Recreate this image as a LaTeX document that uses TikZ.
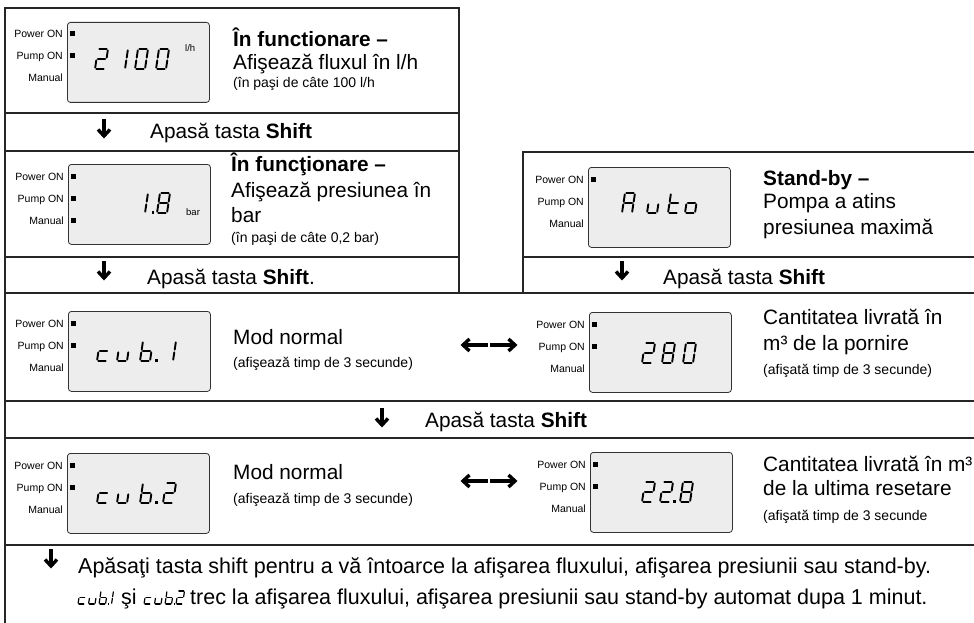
\documentclass[tikz,border=0pt]{standalone}
\usepackage{fontspec}
\setmainfont{Liberation Sans}
\usetikzlibrary{calc}

% seven-segment glyph: [line width]{top-left}{scale}{segments}
\newcommand\ssd[4][1.9pt]{%
  \begin{scope}[shift={#2},scale=#3,xslant=0.15,line width=#1,line cap=round]
    \foreach \s in {#4}{%
      \if a\s \draw (1.3,0)--(8.7,0);\fi
      \if b\s \draw (10,1.3)--(10,8.7);\fi
      \if c\s \draw (10,11.3)--(10,18.7);\fi
      \if d\s \draw (1.3,20)--(8.7,20);\fi
      \if e\s \draw (0,11.3)--(0,18.7);\fi
      \if f\s \draw (0,1.3)--(0,8.7);\fi
      \if g\s \draw (1.3,10)--(8.7,10);\fi
    }%
  \end{scope}}

\newcommand\lcdbox[4]{%
  \node[lcd, anchor=north west] (#1) at (#2,#3) {};
  \node[lbl] (#1-p) at ($(#1.north west)+(-4,16)$) {Power ON};
  \node[lbl] (#1-q) at ($(#1.north west)+(-4,38)$) {Pump ON};
  \node[lbl] (#1-m) at ($(#1.north west)+(-4,60)$) {Manual};
  \foreach \k in {1,...,#4}{\fill ($(#1.north west)+(3,{9.5+22*(\k-1)})$) rectangle +(5,5);}
}

% bold down arrow: name, x, y(top)
\newcommand\dnarrow[3]{%
  \coordinate (#1s) at (#2,#3);
  \coordinate (#1e) at (#2,{#3+17});
  \draw[glyph] (#1s) -- ($(#1e)+(0,-2.5)$);
  \draw[glyph] ($(#1e)+(-6,-6.5)$) -- (#1e) -- ($(#1e)+(6,-6.5)$);
}
% bold left/right arrow pair: name, x(left tip), y
\newcommand\lrarrow[3]{%
  \coordinate (#1l) at (#2,#3);
  \coordinate (#1m) at ({#2+25},#3);
  \coordinate (#1n) at ({#2+27},#3);
  \coordinate (#1r) at ({#2+52},#3);
  \draw[glyph] ($(#1l)+(2.5,0)$) -- (#1m);
  \draw[glyph] ($(#1l)+(6.5,-6)$) -- (#1l) -- ($(#1l)+(6.5,6)$);
  \draw[glyph] (#1n) -- ($(#1r)+(-2.5,0)$);
  \draw[glyph] ($(#1r)+(-6.5,-6)$) -- (#1r) -- ($(#1r)+(-6.5,6)$);
}

\begin{document}
\begin{tikzpicture}[x=1pt,y=-1pt,
  frame/.style={line width=1.1pt, draw=black!85},
  lcd/.style={draw=black!80, fill=black!7, rounded corners=3pt, line width=0.8pt,
    minimum width=142pt, minimum height=80pt, inner sep=0pt},
  lbl/.style={anchor=base east, inner sep=0pt, font=\fontsize{10.5}{12}\selectfont},
  unit/.style={anchor=base west, inner sep=0pt, font=\fontsize{9.5}{10}\selectfont},
  txt/.style={anchor=base west, inner sep=0pt, font=\fontsize{20.8}{24}\selectfont},
  btxt/.style={anchor=base west, inner sep=0pt, font=\fontsize{21.5}{24}\selectfont},
  ttl/.style={anchor=base west, inner sep=0pt, font=\fontsize{20.8}{24}\selectfont\bfseries},
  sml/.style={anchor=base west, inner sep=0pt, font=\fontsize{14}{16}\selectfont},
  glyph/.style={line width=3.4pt, line join=miter, line cap=butt},
]
\useasboundingbox (0,0) rectangle (974,623);

% frame
\draw[frame] (5,623) -- (5,8) -- (459,8) -- (459,293);
\foreach \yy in {113,151,257} \draw[frame] (5,\yy) -- (459,\yy);
\draw[frame] (523,293) -- (523,152) -- (974,152);
\draw[frame] (523,257) -- (974,257);
\foreach \yy in {293,401,438,545} \draw[frame] (5,\yy) -- (974,\yy);

% ---------- row 1 : flow
\lcdbox{d1}{67}{22}{2}
\ssd{(98,49)}{1}{a,b,g,e,d}
\ssd{(118,49)}{1}{b,c}
\ssd{(138,49)}{1}{a,b,c,d,e,f}
\ssd{(159,49)}{1}{a,b,c,d,e,f}
\node[unit] (u1) at (185,52) {l/h};
\node[ttl] (t1a) at (233,47) {În functionare –};
\node[txt] (t1b) at (233,70) {Afişează fluxul în l/h};
\node[sml] (t1c) at (233,88) {(în paşi de câte 100 l/h};

\dnarrow{a1}{104}{119}
\node[txt] (s1) at (150,139) {Apasă tasta \textbf{Shift}};

% ---------- row 2 : pressure
\lcdbox{d2}{68}{164}{3}
\ssd{(138,193)}{1}{b,c}
\fill (151.5,211) rectangle +(2.6,2.6);
\ssd{(160,193)}{1}{a,b,c,d,e,f,g}
\node[unit] (u2) at (186,215) {bar};
\node[ttl] (t2a) at (231,171) {În funcţionare –};
\node[txt] (t2b) at (231,197) {Afişează presiunea în};
\node[txt] (t2c) at (231,222) {bar};
\node[sml] (t2d) at (231,242) {(în paşi de câte 0,2 bar)};

\dnarrow{a2}{104}{261}
\node[txt] (s2) at (147,284) {Apasă tasta \textbf{Shift}.};

% ---------- stand-by
\lcdbox{d3}{588}{167}{1}
\ssd{(625,193)}{1}{a,b,c,e,f,g}
\ssd{(650,193)}{1}{c,d,e}
\ssd{(671,193)}{1}{d,e,f,g}
\ssd{(688,193)}{1}{c,d,e,g}
\node[ttl] (t3a) at (763,185) {Stand-by –};
\node[txt] (t3b) at (763,208) {Pompa a atins};
\node[txt] (t3c) at (763,234) {presiunea maximă};

\dnarrow{a3}{622}{261}
\node[txt] (s3) at (663,284) {Apasă tasta \textbf{Shift}};

% ---------- row 3 : cub.1 / 280
\lcdbox{d4}{68}{311}{2}
\ssd{(100,341)}{1}{d,e,g}
\ssd{(120,341)}{1}{c,d,e}
\ssd{(143,341)}{1}{c,d,e,f,g}
\fill (155,359) rectangle +(2.6,2.6);
\ssd{(166,341)}{1}{b,c}
\node[txt] (t4a) at (233,344) {Mod normal};
\node[sml] (t4b) at (233,367) {(afişează timp de 3 secunde)};

\lrarrow{x3}{463}{345}

\lcdbox{d5}{589}{312}{2}
\ssd{(645,343)}{1}{a,b,g,e,d}
\ssd{(665,343)}{1}{a,b,c,d,e,f,g}
\ssd{(686,343)}{1}{a,b,c,d,e,f}
\node[txt] (t5a) at (763,324) {Cantitatea livrată în};
\node[txt] (t5b) at (763,350) {m³ de la pornire};
\node[sml] (t5c) at (763,374) {(afişată timp de 3 secunde)};

\dnarrow{a4}{382}{408}
\node[txt] (s4) at (425,427) {Apasă tasta \textbf{Shift}};

% ---------- row 4 : cub.2 / 22.8
\lcdbox{d6}{67}{453}{2}
\ssd{(100,483)}{1}{d,e,g}
\ssd{(120,483)}{1}{c,d,e}
\ssd{(143,483)}{1}{c,d,e,f,g}
\fill (155,501) rectangle +(2.6,2.6);
\ssd{(166,483)}{1}{a,b,g,e,d}
\node[txt] (t6a) at (233,479) {Mod normal};
\node[sml] (t6b) at (233,503) {(afişează timp de 3 secunde)};

\lrarrow{x4}{463}{481}

\lcdbox{d7}{590}{452}{2}
\ssd{(645,482)}{1}{a,b,g,e,d}
\ssd{(663,482)}{1}{a,b,g,e,d}
\fill (673,500) rectangle +(2.6,2.6);
\ssd{(683,482)}{1}{a,b,c,d,e,f,g}
\node[txt] (t7a) at (763,471) {Cantitatea livrată în m³};
\node[txt] (t7b) at (763,495) {de la ultima resetare};
\node[sml] (t7c) at (763,520) {(afişată timp de 3 secunde};

% ---------- bottom
\dnarrow{a5}{51}{549}
\node[btxt] (b1) at (78,573) {Apăsaţi tasta shift pentru a vă întoarce la afişarea fluxului, afişarea presiunii sau stand-by.};
\ssd[1.2pt]{(80,591)}{0.65}{d,e,g}
\ssd[1.2pt]{(90.5,591)}{0.65}{c,d,e}
\ssd[1.2pt]{(101,591)}{0.65}{c,d,e,f,g}
\fill (107.5,603) rectangle +(1.8,1.8);
\ssd[1.2pt]{(107,591)}{0.65}{b,c}
\node[btxt] (b2) at (121,604) {şi};
\ssd[1.2pt]{(146,591)}{0.65}{d,e,g}
\ssd[1.2pt]{(156.5,591)}{0.65}{c,d,e}
\ssd[1.2pt]{(167,591)}{0.65}{c,d,e,f,g}
\fill (173.5,603) rectangle +(1.8,1.8);
\ssd[1.2pt]{(178,591)}{0.65}{a,b,g,e,d}
\node[btxt] (b3) at (190,604) {trec la afişarea fluxului, afişarea presiunii sau stand-by automat dupa 1 minut.};
\end{tikzpicture}
\end{document}
